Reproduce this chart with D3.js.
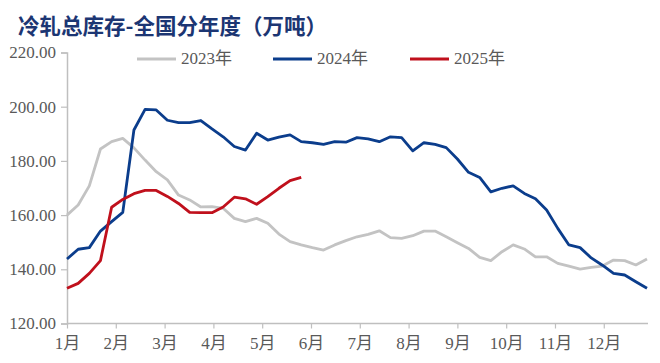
<!DOCTYPE html>
<html>
<head>
<meta charset="utf-8">
<script src="https://cdn.jsdelivr.net/npm/d3@7"></script>
<style>
  body { margin: 0; background: #fff; }
</style>
</head>
<body>
<script>
const WIDTH  = 660;
const HEIGHT = 363;
const LEFT   = 67;
const RIGHT  = 647;
const TOP    = 52.5;
const BOTTOM = 323.5;

const WEEKS_PER_MONTH = 4.375;   // month ticks sit a little over 4 weeks apart

// weekly readings, week 0 = start of January
const months = ["1月","2月","3月","4月","5月","6月","7月","8月","9月","10月","11月","12月"];
const yTicks = [120, 140, 160, 180, 200, 220];

const series2023 = [160.0, 163.7, 170.8, 184.4, 187.1, 188.3, 184.8, 180.3, 176.0, 173.0,
  167.4, 165.6, 163.0, 163.1, 162.5, 158.8, 157.6, 158.8, 157.0, 153.0,
  150.2, 149.0, 148.0, 147.1, 149.0, 150.6, 152.0, 152.9, 154.2, 151.7,
  151.4, 152.4, 154.1, 154.1, 152.0, 149.8, 147.7, 144.4, 143.2, 146.5,
  149.0, 147.5, 144.6, 144.6, 142.2, 141.2, 140.1, 140.7, 141.2, 143.4,
  143.2, 141.6, 143.8];
const series2024 = [143.8, 147.4, 148.0, 154.1, 157.6, 161.0, 191.4, 199.0, 198.8, 195.0,
  194.1, 194.1, 194.9, 191.8, 188.9, 185.3, 184.0, 190.2, 187.7, 188.8,
  189.6, 187.1, 186.7, 186.1, 187.1, 186.9, 188.6, 188.1, 187.1, 188.9,
  188.6, 183.7, 186.7, 186.1, 184.9, 180.7, 175.8, 173.9, 168.6, 169.9,
  170.8, 168.0, 166.0, 161.9, 155.1, 149.0, 148.0, 144.2, 141.5, 138.5,
  137.9, 135.4, 133.0];
const series2025 = [133.0, 134.8, 138.5, 143.2, 162.9, 165.8, 167.9, 169.1, 169.1, 166.9,
  164.3, 161.0, 160.9, 160.9, 163.0, 166.6, 166.0, 164.0, 166.8, 169.9,
  172.7, 173.9];

const seriesNames  = ["2023年", "2024年", "2025年"];
const seriesColors = ["#c3c3c3", "#0b3d8c", "#c0101c"];

const AXIS_COLOR = "#bfbfbf";
const TEXT_COLOR = "#595959";
const SERIF = "'Liberation Serif', 'Times New Roman', 'Noto Sans CJK SC', serif";

function setUpChart() {
  const svg = d3.select("body").append("svg")
      .attr("width", WIDTH)
      .attr("height", HEIGHT)
      .style("display", "block");

  svg.append("text")
      .attr("x", 18)
      .attr("y", 24)
      .attr("dominant-baseline", "central")
      .style("font-family", "'Noto Sans CJK SC', sans-serif")
      .style("font-weight", "700")
      .style("font-size", "21.5px")
      .style("fill", "#1c3673")
      .text("冷轧总库存-全国分年度（万吨）");
  return svg;
}

function setScale() {
  const xScale = d3.scaleLinear().domain([0, 52]).range([LEFT, RIGHT]);
  const yScale = d3.scaleLinear().domain([120, 220]).range([BOTTOM, TOP]);
  return [xScale, yScale];
}

function addAxis(svg, xScale, yScale) {
  const yAxis = d3.axisLeft(yScale)
    .tickValues(yTicks)
    .tickSize(6)
    .tickPadding(5)
    .tickFormat(d => d.toFixed(2));

  const gy = svg.append("g")
    .attr("transform", "translate(" + LEFT + ",0)")
    .call(yAxis);

  const xAxis = d3.axisBottom(xScale)
    .tickValues(months.map((m, i) => i * WEEKS_PER_MONTH))
    .tickSize(5)
    .tickPadding(8)
    .tickFormat((d, i) => months[i]);

  const gx = svg.append("g")
    .attr("transform", "translate(0," + BOTTOM + ")")
    .call(xAxis);
  // stretch the x axis line across the whole plot
  gx.select(".domain").attr("d", "M" + LEFT + ",0H" + (RIGHT + 1));

  [gx, gy].forEach(g => {
    g.select(".domain").attr("stroke", AXIS_COLOR).attr("stroke-width", 1.5);
    g.selectAll(".tick line").attr("stroke", AXIS_COLOR).attr("stroke-width", 1.2);
    g.selectAll(".tick text")
      .style("font-family", SERIF)
      .style("font-size", "17px")
      .style("fill", TEXT_COLOR);
  });
}

function addLegend(svg) {
  const xs = [137, 273, 410];
  seriesNames.forEach((name, i) => {
    svg.append("line")
      .attr("x1", xs[i]).attr("x2", xs[i] + 39)
      .attr("y1", 59).attr("y2", 59)
      .attr("stroke", seriesColors[i])
      .attr("stroke-width", 3);
    svg.append("text")
      .attr("x", xs[i] + 44)
      .attr("y", 58)
      .attr("dominant-baseline", "central")
      .style("font-family", SERIF)
      .style("font-size", "17px")
      .style("fill", TEXT_COLOR)
      .text(name);
  });
}

function drawChart(svg, xScale, yScale) {
  const line = d3.line()
    .x((d, i) => xScale(i))
    .y(d => yScale(d));

  [series2023, series2024, series2025].forEach((s, i) => {
    svg.append("path")
      .datum(s)
      .attr("d", line)
      .attr("fill", "none")
      .attr("stroke", seriesColors[i])
      .attr("stroke-width", 2.8)
      .attr("stroke-linejoin", "round");
  });
}

const svg = setUpChart();
const [xScale, yScale] = setScale();
addAxis(svg, xScale, yScale);
addLegend(svg);
drawChart(svg, xScale, yScale);
</script>
</body>
</html>
